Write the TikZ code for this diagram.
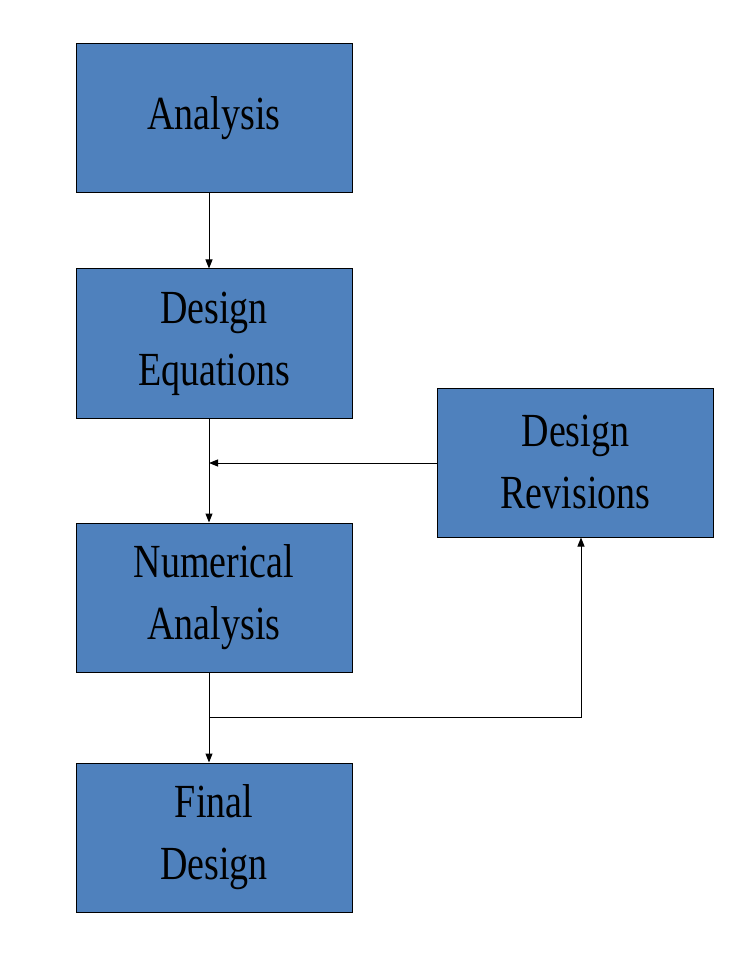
\documentclass[tikz,border=0pt]{standalone}
\usepackage{fontspec}
\setmainfont{Liberation Serif}
\usetikzlibrary{arrows.meta}
\newcommand{\stx}[1]{\scalebox{1}[1.25]{#1}}
\definecolor{boxblue}{HTML}{4F81BD}
\begin{document}
\begin{tikzpicture}[x=1pt,y=-1pt,
  box/.style={draw=black,line width=1pt,fill=boxblue,minimum width=276pt,minimum height=149pt,inner sep=0pt,align=center,font=\fontsize{38}{62}\selectfont},
  conn/.style={draw=black,line width=1pt},
  arr/.style={conn,-{Triangle[length=9pt,width=7pt]}}]
\useasboundingbox (0,0) rectangle (747,957);
\node[box] (an) at (214,118.5) {\stx{Analysis}};
\node[box] (de) at (214,343.5) {\stx{Design}\\\stx{Equations}};
\node[box] (na) at (214,597.5) {\stx{Numerical}\\\stx{Analysis}};
\node[box] (fd) at (214,837.5) {\stx{Final}\\\stx{Design}};
\node[box] (dr) at (575.5,462.5) {\stx{Design}\\\stx{Revisions}};
\coordinate (j1) at (209,463);
\coordinate (j2) at (209,717);
\coordinate (j3) at (581,717);
\draw[arr] (an.south -| j1) -- (de.north -| j1);
\draw[arr] (de.south -| j1) -- (na.north -| j1);
\draw[arr] (dr.west |- j1) -- (j1);
\draw[conn] (na.south -| j2) -- (j2);
\draw[arr] (j2) -- (fd.north -| j2);
\draw[arr] (j2) -- (j3) -- (dr.south -| j3);
\end{tikzpicture}
\end{document}
